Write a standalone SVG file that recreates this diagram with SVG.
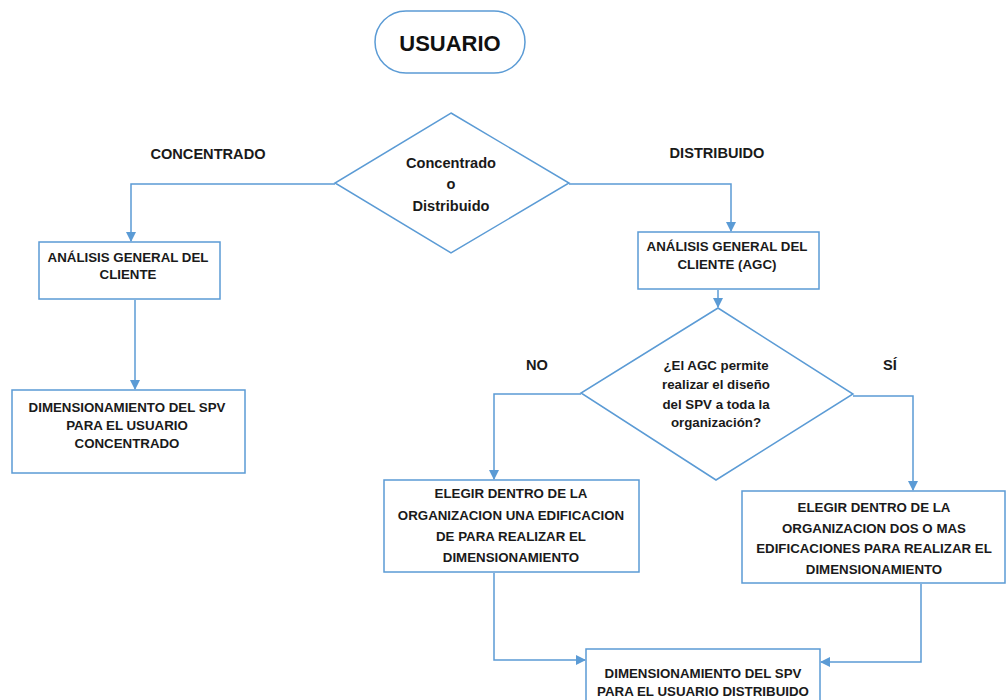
<svg xmlns="http://www.w3.org/2000/svg" width="1006" height="700" viewBox="0 0 1006 700">
<defs>
<marker id="arr" markerWidth="10" markerHeight="10" refX="9" refY="5" orient="auto" markerUnits="userSpaceOnUse">
<path d="M0,0 L10,5 L0,10 Z" fill="#5B9BD5"/>
</marker>
<style>
.shape{fill:#fff;stroke:#5B9BD5;stroke-width:1.5}
.conn{fill:none;stroke:#5B9BD5;stroke-width:1.5;marker-end:url(#arr)}
.t{font-family:"Liberation Sans",Arial,sans-serif;font-weight:bold;font-size:13.3px;fill:#1a1a1a;text-anchor:middle}
.lbl{font-size:14.6px}
.big{font-size:22px;fill:#111}
</style>
</defs>
<rect width="1006" height="700" fill="#fff"/>
<g id="connectors">
<polyline class="conn" points="335,184 131,184 131,241"/>
<polyline class="conn" points="135,300 135,389"/>
<polyline class="conn" points="569,184 731,184 731,231"/>
<polyline class="conn" points="718,290 718,307"/>
<polyline class="conn" points="581,394 494,394 494,479"/>
<polyline class="conn" points="853,396 913,396 913,490"/>
<polyline class="conn" points="494,573 494,660 585,660"/>
<polyline class="conn" points="921,584 921,662 821,662"/>
</g>
<g id="usuario">
<rect class="shape" x="375" y="11" width="150" height="62" rx="31"/>
<text class="t big" x="450" y="51">USUARIO</text>
</g>
<g id="decision1">
<polygon class="shape" points="451,113 569,183 451,253 335,183"/>
<text class="t lbl" x="451" y="168">Concentrado</text>
<text class="t lbl" x="451" y="189">o</text>
<text class="t lbl" x="451" y="211">Distribuido</text>
</g>
<g id="label-concentrado"><text class="t lbl" x="208" y="159">CONCENTRADO</text></g>
<g id="label-distribuido"><text class="t lbl" x="717" y="158">DISTRIBUIDO</text></g>
<g id="analisis1">
<rect class="shape" x="39" y="242" width="181" height="57"/>
<text class="t" x="128" y="262">ANÁLISIS GENERAL DEL</text>
<text class="t" x="128" y="279">CLIENTE</text>
</g>
<g id="dim-concentrado">
<rect class="shape" x="12" y="390" width="233" height="83"/>
<text class="t" x="127" y="412">DIMENSIONAMIENTO DEL SPV</text>
<text class="t" x="127" y="430">PARA EL USUARIO</text>
<text class="t" x="127" y="448">CONCENTRADO</text>
</g>
<g id="analisis2">
<rect class="shape" x="638" y="232" width="181" height="57"/>
<text class="t" x="727" y="251">ANÁLISIS GENERAL DEL</text>
<text class="t" x="727" y="269">CLIENTE (AGC)</text>
</g>
<g id="decision2">
<polygon class="shape" points="718,308 853,394 716,480 581,393"/>
<text class="t" x="716" y="370">¿El AGC permite</text>
<text class="t" x="716" y="389">realizar el diseño</text>
<text class="t" x="716" y="409">del SPV a toda la</text>
<text class="t" x="716" y="427">organización?</text>
</g>
<g id="label-no"><text class="t lbl" x="537" y="370">NO</text></g>
<g id="label-si"><text class="t lbl" x="890" y="370">SÍ</text></g>
<g id="elegir-una">
<rect class="shape" x="384" y="480" width="255" height="92"/>
<text class="t" x="511" y="498">ELEGIR DENTRO DE LA</text>
<text class="t" x="511" y="520">ORGANIZACION UNA EDIFICACION</text>
<text class="t" x="511" y="541">DE PARA REALIZAR EL</text>
<text class="t" x="511" y="562">DIMENSIONAMIENTO</text>
</g>
<g id="elegir-dos">
<rect class="shape" x="742" y="491" width="263" height="92"/>
<text class="t" x="874" y="512">ELEGIR DENTRO DE LA</text>
<text class="t" x="874" y="533">ORGANIZACION DOS O MAS</text>
<text class="t" x="874" y="553">EDIFICACIONES PARA REALIZAR EL</text>
<text class="t" x="874" y="574">DIMENSIONAMIENTO</text>
</g>
<g id="dim-distribuido">
<rect class="shape" x="586" y="649" width="234" height="60"/>
<text class="t" x="703" y="678">DIMENSIONAMIENTO DEL SPV</text>
<text class="t" x="703" y="696">PARA EL USUARIO DISTRIBUIDO</text>
</g>
</svg>
